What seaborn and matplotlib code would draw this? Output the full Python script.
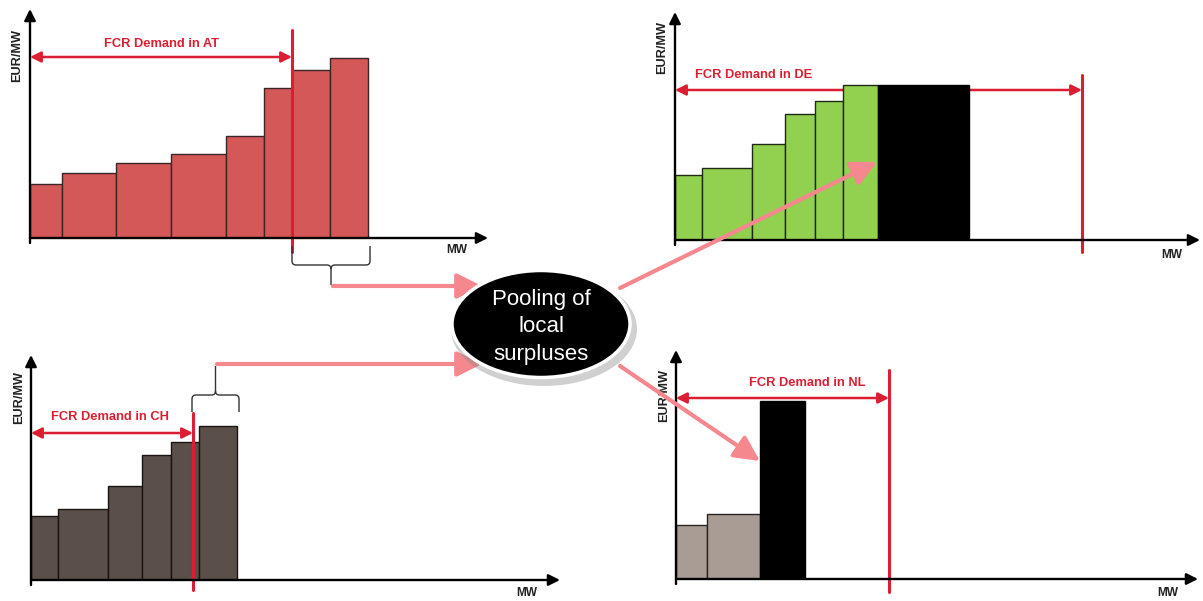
import numpy as np
import matplotlib.pyplot as plt
import seaborn as sns
from matplotlib.patches import Ellipse, FancyArrowPatch, PathPatch
from matplotlib.path import Path

# bar widths (MW) and prices (EUR/MW)
at_widths = [32, 54, 55, 55, 38, 28, 38, 38]
at_prices = [54, 65, 75, 84, 102, 150, 168, 180]
at_demand = 262

de_widths = [27, 50, 33, 30, 28, 35]
de_prices = [65, 72, 96, 126, 139, 155]
de_import_width = 91
de_import_price = 155
de_demand = 407

ch_widths = [27, 50, 34, 29, 28, 38]
ch_prices = [64, 71, 94, 125, 138, 154]
ch_demand = 162

nl_widths = [31, 53]
nl_prices = [54, 65]
nl_import_width = 45
nl_import_price = 178
nl_demand = 213

RED = "#DC1E32"
PINK = "#F5878E"
W, H = 1203, 601

sns.set_theme(style="white")
plt.rcParams["font.family"] = ["Liberation Sans", "DejaVu Sans"]

fig = plt.figure(figsize=(W / 100, H / 100), dpi=100)


def panel(ox, oy, xt, yt):
    ax = fig.add_axes([ox / W, 1 - oy / H, (xt - ox) / W, (oy - yt) / H])
    ax.patch.set_alpha(0)
    return ax, xt - ox, oy - yt


def bars(ax, widths, prices, start, color, edge):
    edges = start + np.concatenate([[0], np.cumsum(widths)])
    centers = (edges[:-1] + edges[1:]) / 2
    sns.histplot(x=centers, weights=prices, bins=edges.tolist(), stat="count", ax=ax,
                 color=color, edgecolor=edge, linewidth=1, alpha=1, zorder=2)
    return edges[-1]


def finish(ax, xmax, ymax, demand, line_y, arrow_y, text_xy, label, mw_xy, eur_xy, ha="center"):
    ax.set_xlim(0, xmax)
    ax.set_ylim(0, ymax)
    ax.set_axis_off()
    # axes with arrow heads
    ax.annotate("", xy=(xmax, 0), xytext=(0, 0), annotation_clip=False,
                arrowprops=dict(arrowstyle="-|>", color="black", lw=1.7,
                                mutation_scale=17, shrinkA=0, shrinkB=0), zorder=4)
    ax.annotate("", xy=(0, ymax), xytext=(0, -5), annotation_clip=False,
                arrowprops=dict(arrowstyle="-|>", color="black", lw=1.7,
                                mutation_scale=17, shrinkA=0, shrinkB=0), zorder=4)
    # demand
    ax.plot([demand, demand], line_y, color=RED, lw=2.2, clip_on=False, zorder=3)
    ax.annotate("", xy=(demand, arrow_y), xytext=(0, arrow_y), annotation_clip=False,
                arrowprops=dict(arrowstyle="<|-|>", color=RED, lw=1.8,
                                mutation_scale=16, shrinkA=0, shrinkB=0), zorder=1)
    ax.text(*text_xy, label, color=RED, fontsize=9.3, fontweight="bold",
            ha=ha, va="center")
    ax.text(*mw_xy, "MW", color="#222222", fontsize=8.6, fontweight="bold",
            ha="center", va="center")
    ax.text(*eur_xy, "EUR/MW", color="#222222", fontsize=9.2, fontweight="bold",
            ha="center", va="center", rotation=90)


# AT
ax, xm, ym = panel(30, 238, 488, 9)
bars(ax, at_widths, at_prices, 0, "#D45858", "#3a2626")
finish(ax, xm, ym, at_demand, [-14, 208], 181, (132, 194), "FCR Demand in AT",
       (427, -12), (-13, 183))

# DE
ax, xm, ym = panel(675, 240, 1200, 12)
end = bars(ax, de_widths, de_prices, 0, "#92D050", "#1f2a14")
bars(ax, [de_import_width], [de_import_price], end, "black", "black")
finish(ax, xm, ym, de_demand, [-12, 165], 150, (20, 165), "FCR Demand in DE",
       (497, -15), (-13, 192), ha="left")

# CH
ax, xm, ym = panel(31, 580, 560, 355)
bars(ax, ch_widths, ch_prices, 0, "#5A4F49", "#1a1512")
finish(ax, xm, ym, ch_demand, [-10, 167], 147, (79, 163), "FCR Demand in CH",
       (496, -13), (-12, 183))

# NL
ax, xm, ym = panel(676, 579, 1198, 350)
end = bars(ax, nl_widths, nl_prices, 0, "#A89C95", "#2a2522")
bars(ax, [nl_import_width], [nl_import_price], end, "black", "black")
finish(ax, xm, ym, nl_demand, [-13, 209], 181, (131, 196), "FCR Demand in NL",
       (492, -14), (-12, 183))

# overlay in pixel coordinates: braces, pooling arrows, ellipse
ov = fig.add_axes([0, 0, 1, 1])
ov.set_xlim(0, W)
ov.set_ylim(H, 0)
ov.set_axis_off()
ov.patch.set_alpha(0)


def brace(x0, x1, yb, ymid, ytip):
    xm = (x0 + x1) / 2
    r = 4
    s = np.sign(ymid - yb)
    verts = [(x0, yb), (x0, ymid - s * r), (x0, ymid), (x0 + r, ymid),
             (xm - r, ymid), (xm, ymid), (xm, ymid + s * r), (xm, ytip),
             (xm, ymid + s * r), (xm, ymid), (xm + r, ymid),
             (x1 - r, ymid), (x1, ymid), (x1, ymid - s * r), (x1, yb)]
    codes = [Path.MOVETO, Path.LINETO, Path.CURVE3, Path.CURVE3,
             Path.LINETO, Path.CURVE3, Path.CURVE3, Path.LINETO,
             Path.MOVETO, Path.CURVE3, Path.CURVE3,
             Path.LINETO, Path.CURVE3, Path.CURVE3, Path.LINETO]
    ov.add_patch(PathPatch(Path(verts, codes), fill=False, edgecolor="#333333", lw=1.0))


brace(292, 370, 246, 265, 285)
brace(192, 239, 412, 395, 366)


def pink(a, b):
    ov.add_patch(FancyArrowPatch(a, b, arrowstyle="-|>", mutation_scale=38,
                                 color=PINK, lw=3, shrinkA=0, shrinkB=0, zorder=2))


pink((333, 286), (482, 286))
pink((217, 364), (482, 364))
pink((620, 288), (877, 162))
pink((620, 366), (760, 461))

ov.add_patch(Ellipse((544, 329), 186, 114, facecolor="#8a8a8a", alpha=0.4,
                     edgecolor="none", zorder=3))
ov.add_patch(Ellipse((541, 324), 178, 107, facecolor="black", edgecolor="white",
                     lw=2.5, zorder=4))
ov.text(541, 327, "Pooling of\nlocal\nsurpluses", color="white", fontsize=16,
        ha="center", va="center", linespacing=1.4, zorder=5)

fig.savefig("out.png", dpi=100)
